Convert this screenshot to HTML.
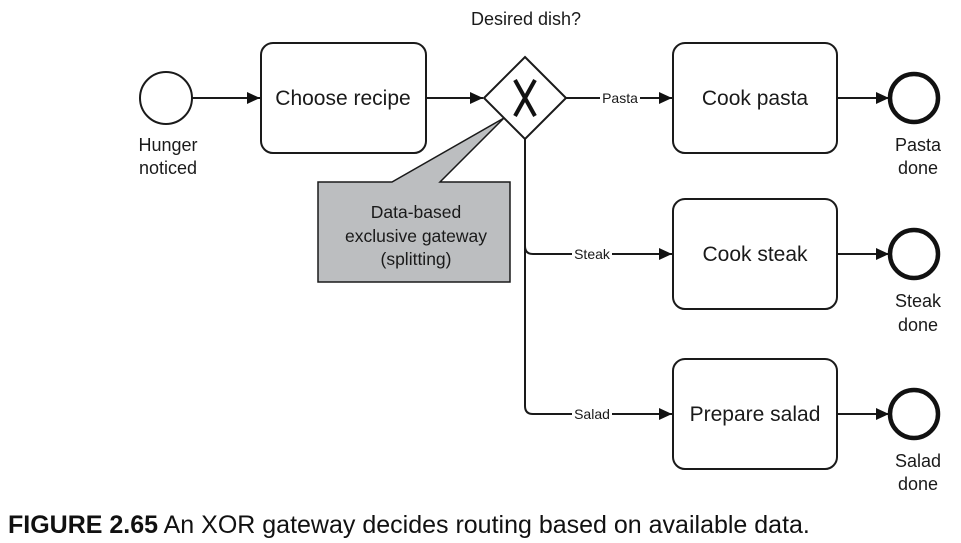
<!DOCTYPE html>
<html><head><style>
body{margin:0;background:#fff;}
svg{display:block;font-family:"Liberation Sans",Arial,sans-serif;}
</style></head><body>
<svg width="961" height="543" viewBox="0 0 961 543" xmlns="http://www.w3.org/2000/svg">
<defs><marker id="b" markerWidth="14" markerHeight="14" refX="13" refY="6" orient="auto" markerUnits="userSpaceOnUse"><path d="M0,0 L13,6 L0,12 z" fill="#111"/></marker></defs>
<g stroke="#1a1a1a" stroke-width="2" fill="none">
<circle cx="166" cy="98" r="26"/>
<line x1="192" y1="98" x2="260" y2="98" marker-end="url(#b)"/>
<rect x="261" y="43" width="165" height="110" rx="12"/>
<line x1="426" y1="98" x2="483" y2="98" marker-end="url(#b)"/>
<path d="M525,57 L566,98 L525,139 L484,98 Z" fill="#fff"/>
<line x1="566" y1="98" x2="672" y2="98" marker-end="url(#b)"/>
<path d="M525,139 V246 Q525,254 533,254 H672" marker-end="url(#b)"/>
<path d="M525,246 V406 Q525,414 533,414 H672" marker-end="url(#b)"/>
<rect x="673" y="43" width="164" height="110" rx="12"/>
<rect x="673" y="199" width="164" height="110" rx="12"/>
<rect x="673" y="359" width="164" height="110" rx="12"/>
<line x1="837" y1="98" x2="889" y2="98" marker-end="url(#b)"/>
<line x1="837" y1="254" x2="889" y2="254" marker-end="url(#b)"/>
<line x1="837" y1="414" x2="889" y2="414" marker-end="url(#b)"/>
</g>
<g stroke="#111" stroke-width="4.5" fill="none">
<circle cx="914" cy="98" r="24"/>
<circle cx="914" cy="254" r="24"/>
<circle cx="914" cy="414" r="24"/>
</g>
<path d="M515,80 L535,116 M535,80 L515,116" stroke="#111" stroke-width="4"/>
<path d="M318,182 L392,182 L504,118 L440,182 L510,182 L510,282 L318,282 Z" fill="#bcbec0" stroke="#1a1a1a" stroke-width="1.5"/>
<g fill="#fff"><rect x="600" y="91" width="40" height="14"/><rect x="572" y="247" width="40" height="14"/><rect x="572" y="407" width="40" height="14"/></g>
<g fill="#1a1a1a" text-anchor="middle">
<text x="526" y="25" font-size="18">Desired dish?</text>
<text x="343" y="105" font-size="21">Choose recipe</text>
<text x="755" y="105" font-size="21">Cook pasta</text>
<text x="755" y="261" font-size="21">Cook steak</text>
<text x="755" y="421" font-size="21">Prepare salad</text>
<text x="620" y="103" font-size="14">Pasta</text>
<text x="592" y="259" font-size="14">Steak</text>
<text x="592" y="419" font-size="14">Salad</text>
<text x="168" y="151" font-size="18">Hunger</text>
<text x="168" y="174" font-size="18">noticed</text>
<text x="918" y="151" font-size="18">Pasta</text>
<text x="918" y="174" font-size="18">done</text>
<text x="918" y="307" font-size="18">Steak</text>
<text x="918" y="331" font-size="18">done</text>
<text x="918" y="467" font-size="18">Salad</text>
<text x="918" y="490" font-size="18">done</text>
<text x="416" y="218" font-size="17.5">Data-based</text>
<text x="416" y="242" font-size="17.5">exclusive gateway</text>
<text x="416" y="265" font-size="17.5">(splitting)</text>
</g>
<text x="8" y="533" font-size="25" fill="#111"><tspan font-weight="bold">FIGURE 2.65</tspan>  An XOR gateway decides routing based on available data.</text>
</svg>
</body></html>
